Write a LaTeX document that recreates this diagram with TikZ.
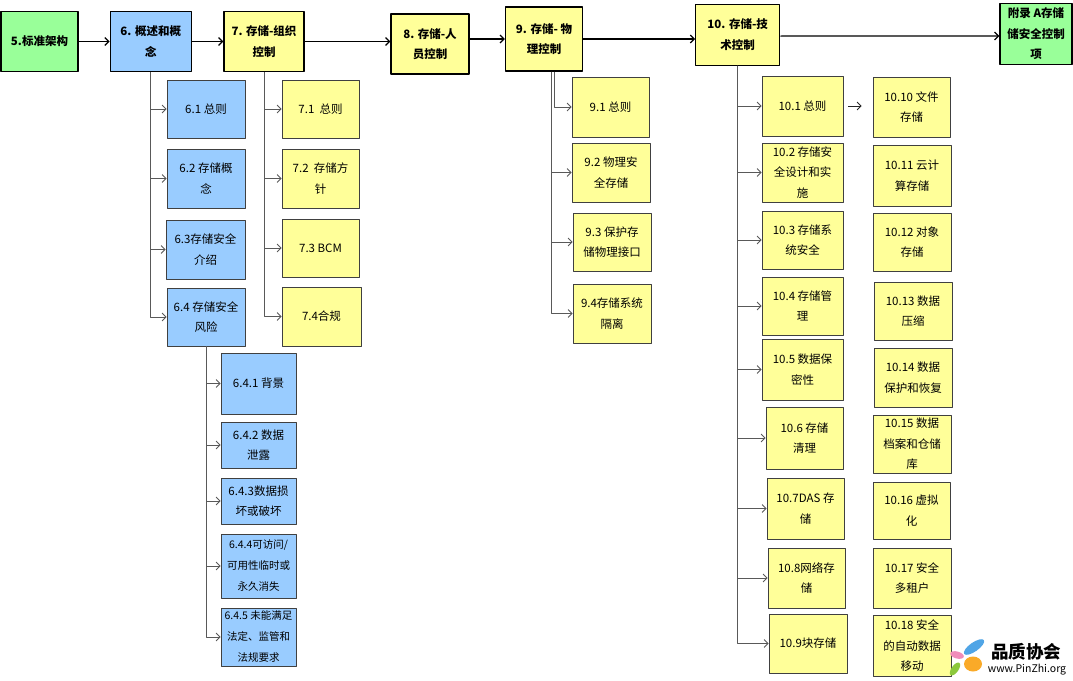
\documentclass[tikz,border=0pt]{standalone}
\usepackage{fontspec}
\setmainfont{Noto Sans CJK SC}
\usetikzlibrary{arrows.meta}
\definecolor{lgreen}{RGB}{153,255,153}
\definecolor{lblue}{RGB}{153,204,255}
\definecolor{lyel}{RGB}{255,255,153}
\definecolor{petblue}{RGB}{80,165,230}
\definecolor{petpink}{RGB}{240,140,185}
\definecolor{petorange}{RGB}{250,170,40}
\definecolor{petgreen}{RGB}{140,200,60}
\begin{document}
\begin{tikzpicture}[x=1pt,y=-1pt,line join=round,
	font=\fontsize{11.5}{20.5}\selectfont,
	>={Straight Barb[length=4pt,width=8pt]},
	sz/.style 2 args={minimum width=#1pt,minimum height=#2pt},
	top/.style={draw=black,line width=1.2pt,align=center,inner sep=1pt,
		font=\fontsize{11.5}{20.5}\selectfont\bfseries},
	sub/.style={draw=black!75,line width=0.8pt,align=center,inner sep=1pt},
	small/.style={font=\fontsize{10.5}{21}\selectfont},
	arr/.style={->,line width=1.2pt},
	br/.style={->,draw=black!65,line width=0.8pt}]
	\fill[white] (0,0) rectangle (1073,680);
	\useasboundingbox (0,0) rectangle (1073,680);
	% main row
	\node[top,fill=lgreen,sz={77}{60}] (n5) at (39.5,41.5) {5.标准架构};
	\node[top,fill=lblue,sz={81}{60}] (n6) at (150.75,41.5) {6. 概述和概\\念};
	\node[top,fill=lyel,sz={80}{60}] (n7) at (264,41.5) {7. 存储-组织\\控制};
	\node[top,fill=lyel,sz={78}{60}] (n8) at (430,44) {8. 存储-人\\员控制};
	\node[top,fill=lyel,sz={77}{64}] (n9) at (544,39) {9. 存储- 物\\理控制};
	\node[top,fill=lyel,sz={84}{61}] (n10) at (737.7,34.6) {10. 存储-技\\术控制};
	\node[top,fill=lgreen,sz={72}{61}] (nA) at (1036,34) {附录 A存储\\储安全控制\\项};
	\draw[arr] (n5) -- (n6);
	\draw[arr] (n6) -- (n7);
	\draw[arr] (n7.east) -- (n7.east -| n8.west);
	\draw[arr] (n8.east |- n9) -- (n9.west);
	\draw[arr] (n9.east) -- (n9.east -| n10.west);
	\draw[arr] (n10.east) ++(0,1.5) -- (nA.west |- 0,36);
	% 6
	\node[sub,fill=lblue,sz={78}{58}] (c61) at (206,109) {6.1 总则};
	\node[sub,fill=lblue,sz={78}{59}] (c62) at (206,178.5) {6.2 存储概\\念};
	\node[sub,fill=lblue,sz={79}{59}] (c63) at (205.5,249.5) {6.3存储安全\\介绍};
	\node[sub,fill=lblue,sz={78}{58}] (c64) at (206,317) {6.4 存储安全\\风险};
	\draw[br] (n6.south) |- (c61.west);
	\draw[br] (n6.south) |- (c62.west);
	\draw[br] (n6.south) |- (c63.west);
	\draw[br] (n6.south) |- (c64.west);
	% 6.4
	\node[sub,fill=lblue,sz={75}{61}] (c641) at (258.5,383.5) {6.4.1 背景};
	\node[sub,fill=lblue,sz={75}{46}] (c642) at (258.5,445) {6.4.2 数据\\泄露};
	\node[sub,fill=lblue,sz={75}{46}] (c643) at (258.5,501) {6.4.3数据损\\坏或破坏};
	\node[sub,small,fill=lblue,sz={75}{64}] (c644) at (258.5,566) {6.4.4可访问/\\可用性临时或\\永久消失};
	\node[sub,small,fill=lblue,sz={75}{58}] (c645) at (258.5,637) {6.4.5 未能满足\\法定、监管和\\法规要求};
	\draw[br] (c64.south) |- (c641.west);
	\draw[br] (c64.south) |- (c642.west);
	\draw[br] (c64.south) |- (c643.west);
	\draw[br] (c64.south) |- (c644.west);
	\draw[br] (c64.south) |- (c645.west);
	% 7
	\node[sub,fill=lyel,sz={77}{58}] (c71) at (320.5,109) {7.1\ \ 总则};
	\node[sub,fill=lyel,sz={77}{59}] (c72) at (320.5,178.5) {7.2\ \ 存储方\\针};
	\node[sub,fill=lyel,sz={77}{58}] (c73) at (320.5,248) {7.3 BCM};
	\node[sub,fill=lyel,sz={79}{59}] (c74) at (321.5,316.5) {7.4合规};
	\draw[br] (n7.south) |- (c71.west);
	\draw[br] (n7.south) |- (c72.west);
	\draw[br] (n7.south) |- (c73.west);
	\draw[br] (n7.south) |- (c74.west);
	% 9
	\path (n9.south) ++(7,0) coordinate (t9a) ++(3,0) coordinate (t9b);
	\node[sub,fill=lyel,sz={77}{60}] (c91) at (610.5,107) {9.1 总则};
	\node[sub,fill=lyel,sz={78}{59}] (c92) at (611,172.5) {9.2 物理安\\全存储};
	\node[sub,fill=lyel,sz={78}{58}] (c93) at (612,242) {9.3 保护存\\储物理接口};
	\node[sub,fill=lyel,sz={78}{59}] (c94) at (612,313.5) {9.4存储系统\\隔离};
	\draw[br] (t9b) |- (c91.west);
	\draw[br] (t9a) |- (c92.west);
	\draw[br] (t9a) |- (c93.west);
	\draw[br] (t9a) |- (c94.west);
	% 10
	\node[sub,fill=lyel,sz={81}{60}] (c101) at (802.5,106) {10.1 总则};
	\node[sub,fill=lyel,sz={81}{59}] (c102) at (802.5,172.5) {10.2 存储安\\全设计和实\\施};
	\node[sub,fill=lyel,sz={81}{58}] (c103) at (802.5,240) {10.3 存储系\\统安全};
	\node[sub,fill=lyel,sz={81}{58}] (c104) at (802.5,306) {10.4 存储管\\理};
	\node[sub,fill=lyel,sz={81}{61}] (c105) at (802.5,369.5) {10.5 数据保\\密性};
	\node[sub,fill=lyel,sz={77}{62}] (c106) at (804.5,438) {10.6 存储\\清理};
	\node[sub,fill=lyel,sz={77}{61}] (c107) at (805.5,508.5) {10.7DAS 存\\储};
	\node[sub,fill=lyel,sz={77}{60}] (c108) at (806.5,578) {10.8网络存\\储};
	\node[sub,fill=lyel,sz={78}{59}] (c109) at (808,643.5) {10.9块存储};
	\draw[br] (n10.south) |- (c101.west);
	\draw[br] (n10.south) |- (c102.west);
	\draw[br] (n10.south) |- (c103.west);
	\draw[br] (n10.south) |- (c104.west);
	\draw[br] (n10.south) |- (c105.west);
	\draw[br] (n10.south) |- (c106.west);
	\draw[br] (n10.south) |- (c107.west);
	\draw[br] (n10.south) |- (c108.west);
	\draw[br] (n10.south) |- (c109.west);
	\node[sub,fill=lyel,sz={77}{60}] (c1010) at (911.5,107) {10.10 文件\\存储};
	\node[sub,fill=lyel,sz={78}{61}] (c1011) at (912,175.5) {10.11 云计\\算存储};
	\node[sub,fill=lyel,sz={78}{58}] (c1012) at (912,242) {10.12 对象\\存储};
	\node[sub,fill=lyel,sz={78}{58}] (c1013) at (913,311) {10.13 数据\\压缩};
	\node[sub,fill=lyel,sz={78}{59}] (c1014) at (913,377.5) {10.14 数据\\保护和恢复};
	\node[sub,fill=lyel,sz={78}{58}] (c1015) at (912,444) {10.15 数据\\档案和仓储\\库};
	\node[sub,fill=lyel,sz={77}{57}] (c1016) at (911.5,510.5) {10.16 虚拟\\化};
	\node[sub,fill=lyel,sz={78}{60}] (c1017) at (912,578) {10.17 安全\\多租户};
	\node[sub,fill=lyel,sz={78}{61}] (c1018) at (912,646) {10.18 安全\\的自动数据\\移动};
	\draw[br,draw=black!85,shorten <=5pt,shorten >=11pt] (c101.east) -- (c101.east -| c1010.west);
	% logo
	\fill[petblue] (974,647) ellipse [x radius=12pt,y radius=4.5pt,rotate=35];
	\fill[petpink] (957,655) ellipse [x radius=7pt,y radius=3.5pt,rotate=-15];
	\fill[petorange] (973,664) ellipse [x radius=9pt,y radius=7.5pt];
	\fill[petgreen] (955,669) ellipse [x radius=7.5pt,y radius=3.5pt,rotate=55];
	\node[inner sep=0pt,font=\fontsize{17.5}{17.5}\selectfont\bfseries] (logo) at (1026,652) {品质协会};
	\node[inner sep=0pt,font=\fontsize{10.5}{10.5}\selectfont] (url) at (1027,670) {www.PinZhi.org};
\end{tikzpicture}
\end{document}
